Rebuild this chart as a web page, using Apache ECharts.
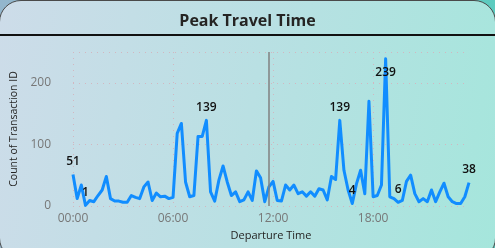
<!DOCTYPE html>
<html>
<head>
<meta charset="utf-8">
<script src="https://cdn.jsdelivr.net/npm/echarts@6/dist/echarts.min.js"></script>
<style>
html,body{margin:0;padding:0;width:495px;height:248px;overflow:hidden;background:linear-gradient(90deg,#93b6cd 0%,#7fc4c8 50%,#5ccbbf 100%);}
#panel{position:absolute;left:-1px;top:0;width:495px;height:258px;border:1px solid #4a4a4a;border-radius:22px;background:linear-gradient(100deg,#cddce9 0%,#b9e0e3 50%,#a5e6dc 100%);}
#sep{position:absolute;left:0;top:34px;width:495px;height:2px;background:#111;}
#chart{position:absolute;left:0;top:0;width:495px;height:248px;}
</style>
</head>
<body>
<div id="panel"></div>
<div id="sep"></div>
<div id="chart"></div>
<script>
const titleText = "Peak Travel Time";
const xAxisName = "Departure Time";
const yAxisName = "Count of Transaction ID";
const categories = [
"00:00","00:15","00:30","00:45","01:00","01:15","01:30","01:45",
"02:00","02:15","02:30","02:45","03:00","03:15","03:30","03:45",
"04:00","04:15","04:30","04:45","05:00","05:15","05:30","05:45",
"06:00","06:15","06:30","06:45","07:00","07:15","07:30","07:45",
"08:00","08:15","08:30","08:45","09:00","09:15","09:30","09:45",
"10:00","10:15","10:30","10:45","11:00","11:15","11:30","11:45",
"12:00","12:15","12:30","12:45","13:00","13:15","13:30","13:45",
"14:00","14:15","14:30","14:45","15:00","15:15","15:30","15:45",
"16:00","16:15","16:30","16:45","17:00","17:15","17:30","17:45",
"18:00","18:15","18:30","18:45","19:00","19:15","19:30","19:45",
"20:00","20:15","20:30","20:45","21:00","21:15","21:30","21:45",
"22:00","22:15","22:30","22:45","23:00","23:15","23:30","23:45"];
const counts = [
51,12,34,1,9,7,17,26,48,12,8,8,6,6,17,14,
12,31,39,9,21,15,16,12,14,118,134,39,15,17,113,113,
139,23,8,42,65,39,17,23,7,10,23,9,57,46,7,31,
40,9,8,34,26,34,20,23,16,23,16,28,26,10,48,43,
139,58,26,4,36,58,20,170,15,17,34,239,15,12,6,9,
40,50,20,7,12,7,26,7,23,37,15,7,4,4,15,38];
const labelledIdx = [0,3,32,64,67,75,78,95];
const insideLabelIdx = [75];
const refLineCategory = "11:45";
const yTicks = [0,100,200];

const seriesData = counts.map((v,i)=>{
  if(labelledIdx.indexOf(i)>=0){
    const inside = insideLabelIdx.indexOf(i)>=0;
    return {value:v,label:{show:true,position:inside?'bottom':'top',distance:inside?8:7}};
  }
  return v;
});

const chart = echarts.init(document.getElementById('chart'),null,{renderer:'canvas'});
chart.setOption({
  backgroundColor:'transparent',
  animation:false,
  title:{text:titleText,left:'center',top:8,textStyle:{fontFamily:'Open Sans',fontWeight:'bold',fontSize:16,color:'#252423'}},
  grid:{left:73,right:26,top:52,bottom:42},
  xAxis:{
    type:'category',data:categories,boundaryGap:false,
    name:xAxisName,nameLocation:'middle',nameGap:24,
    nameTextStyle:{fontFamily:'Open Sans',fontSize:11,color:'#252423'},
    axisLine:{show:false},axisTick:{show:false},
    axisLabel:{interval:23,margin:7,fontFamily:'Open Sans',fontSize:12,color:'#777777'},
    splitLine:{show:true,interval:23,lineStyle:{type:[1,5],color:'#d2b7c0',width:1}}
  },
  yAxis:{
    type:'value',min:0,max:250,interval:100,
    name:yAxisName,nameLocation:'middle',nameGap:43,
    nameTextStyle:{fontFamily:'Open Sans',fontSize:10.5,color:'#252423'},
    axisLine:{show:false},axisTick:{show:false},
    axisLabel:{margin:22,fontFamily:'Open Sans',fontSize:12,color:'#777777',showMaxLabel:false,
      formatter:function(v){return yTicks.indexOf(v)>=0?String(v):'';}},
    splitLine:{show:true,lineStyle:{type:[1,5],color:'#d2b7c0',width:1}}
  },
  series:[{
    type:'line',data:seriesData,showSymbol:true,symbol:'circle',symbolSize:0,
    lineStyle:{color:'#118DFF',width:3,join:'round'},
    itemStyle:{color:'#118DFF'},
    label:{show:false,fontFamily:'Open Sans',fontWeight:600,fontSize:12,color:'#111111'},
    labelLayout:{hideOverlap:false},
    markLine:{silent:true,symbol:'none',label:{show:false},
      lineStyle:{color:'#808080',width:1.5,type:'solid'},
      data:[{xAxis:refLineCategory}]}
  }]
});
</script>
</body>
</html>
